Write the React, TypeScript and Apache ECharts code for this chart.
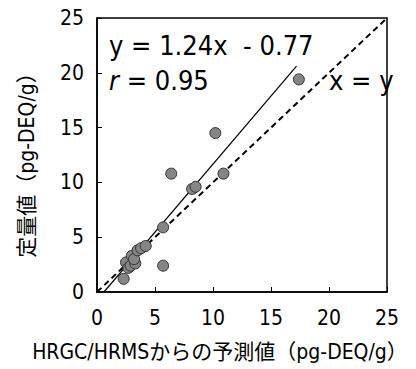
import React, { useEffect, useRef } from "react";
import * as echarts from "echarts";

const xTicks = [0, 5, 10, 15, 20, 25];
const measured: [number, number][] = [
  [17.4, 19.4],
  [10.2, 14.5],
  [10.9, 10.8],
  [6.4, 10.8],
  [8.2, 9.4],
  [8.5, 9.6],
  [5.7, 5.9],
  [5.7, 2.4],
  [2.3, 1.2],
  [2.5, 2.7],
  [2.7, 2.2],
  [2.9, 2.4],
  [3.3, 2.6],
  [3.0, 3.3],
  [3.2, 3.0],
  [3.5, 3.8],
  [3.8, 4.0],
  [4.2, 4.2],
];
const regressionLine: [number, number][] = [
  [0.6, 0],
  [17.2, 20.6],
];
const identityLine: [number, number][] = [
  [0, 0],
  [25, 25],
];
const equationText = "y = 1.24x  - 0.77";
const rText = " = 0.95";
const identityText = "x = y";
const xTitle = "HRGC/HRMSからの予測値（pg-DEQ/g）";
const yTitle = "定量値（pg-DEQ/g）";

const FONT = "'Liberation Sans Narrow', 'DejaVu Sans Condensed', 'Noto Sans CJK JP', sans-serif";

export default function App() {
  const ref = useRef<HTMLDivElement>(null);
  useEffect(() => {
    if (!ref.current) return;
    const chart = echarts.init(ref.current, null, { renderer: "svg" });
    chart.setOption({
      animation: false,
      grid: {
        left: 97,
        right: 29,
        top: 18,
        bottom: 77,
        show: true,
        borderColor: "#000",
        borderWidth: 1.5,
        backgroundColor: "transparent",
      },
      xAxis: {
        type: "value",
        min: 0,
        max: 25,
        interval: 5,
        splitLine: { show: false },
        axisLine: { lineStyle: { color: "#000", width: 1.5 } },
        axisTick: { inside: true, length: 5, lineStyle: { color: "#000" } },
        axisLabel: {
          color: "#000",
          fontFamily: FONT,
          fontSize: 21,
          margin: 15,
          formatter: (v: number) => (xTicks.includes(v) ? String(v) : ""),
        },
      },
      yAxis: {
        type: "value",
        min: 0,
        max: 25,
        interval: 5,
        splitLine: { show: false },
        axisLine: { lineStyle: { color: "#000", width: 1.5 } },
        axisTick: { inside: true, length: 5, lineStyle: { color: "#000" } },
        axisLabel: {
          color: "#000",
          fontFamily: FONT,
          fontSize: 21,
          margin: 13,
        },
      },
      series: [
        {
          type: "line",
          data: identityLine,
          symbol: "none",
          lineStyle: { color: "#000", width: 2, type: [6, 4] },
          z: 2,
        },
        {
          type: "line",
          data: regressionLine,
          symbol: "none",
          lineStyle: { color: "#000", width: 1.2 },
          z: 2,
        },
        {
          type: "scatter",
          data: measured,
          symbolSize: 11,
          itemStyle: { color: "#858585", borderColor: "#333", borderWidth: 1, opacity: 1 },
          z: 3,
        },
      ],
      graphic: [
        {
          type: "text",
          left: 109,
          top: 32,
          style: { text: equationText, fontFamily: FONT, fontSize: 27, fill: "#000" },
        },
        {
          type: "text",
          left: 109,
          top: 67,
          style: {
            text: "{i|r}" + rText,
            fontFamily: FONT,
            fontSize: 27,
            fill: "#000",
            rich: { i: { fontStyle: "italic", fontFamily: FONT, fontSize: 27 } },
          },
        },
        {
          type: "text",
          left: 329,
          top: 67,
          style: { text: identityText, fontFamily: FONT, fontSize: 27, fill: "#000" },
        },
        {
          type: "text",
          x: 220,
          y: 352,
          style: {
            text: xTitle,
            fontFamily: FONT,
            fontSize: 21,
            fill: "#000",
            align: "center",
            verticalAlign: "middle",
          },
        },
        {
          type: "text",
          x: 27,
          y: 160,
          rotation: Math.PI / 2,
          style: {
            text: yTitle,
            fontFamily: FONT,
            fontSize: 21,
            fill: "#000",
            align: "center",
            verticalAlign: "middle",
          },
        },
      ],
    });
    return () => chart.dispose();
  }, []);
  return <div ref={ref} style={{ width: 416, height: 369, position: "absolute", left: 0, top: 0 }} />;
}
